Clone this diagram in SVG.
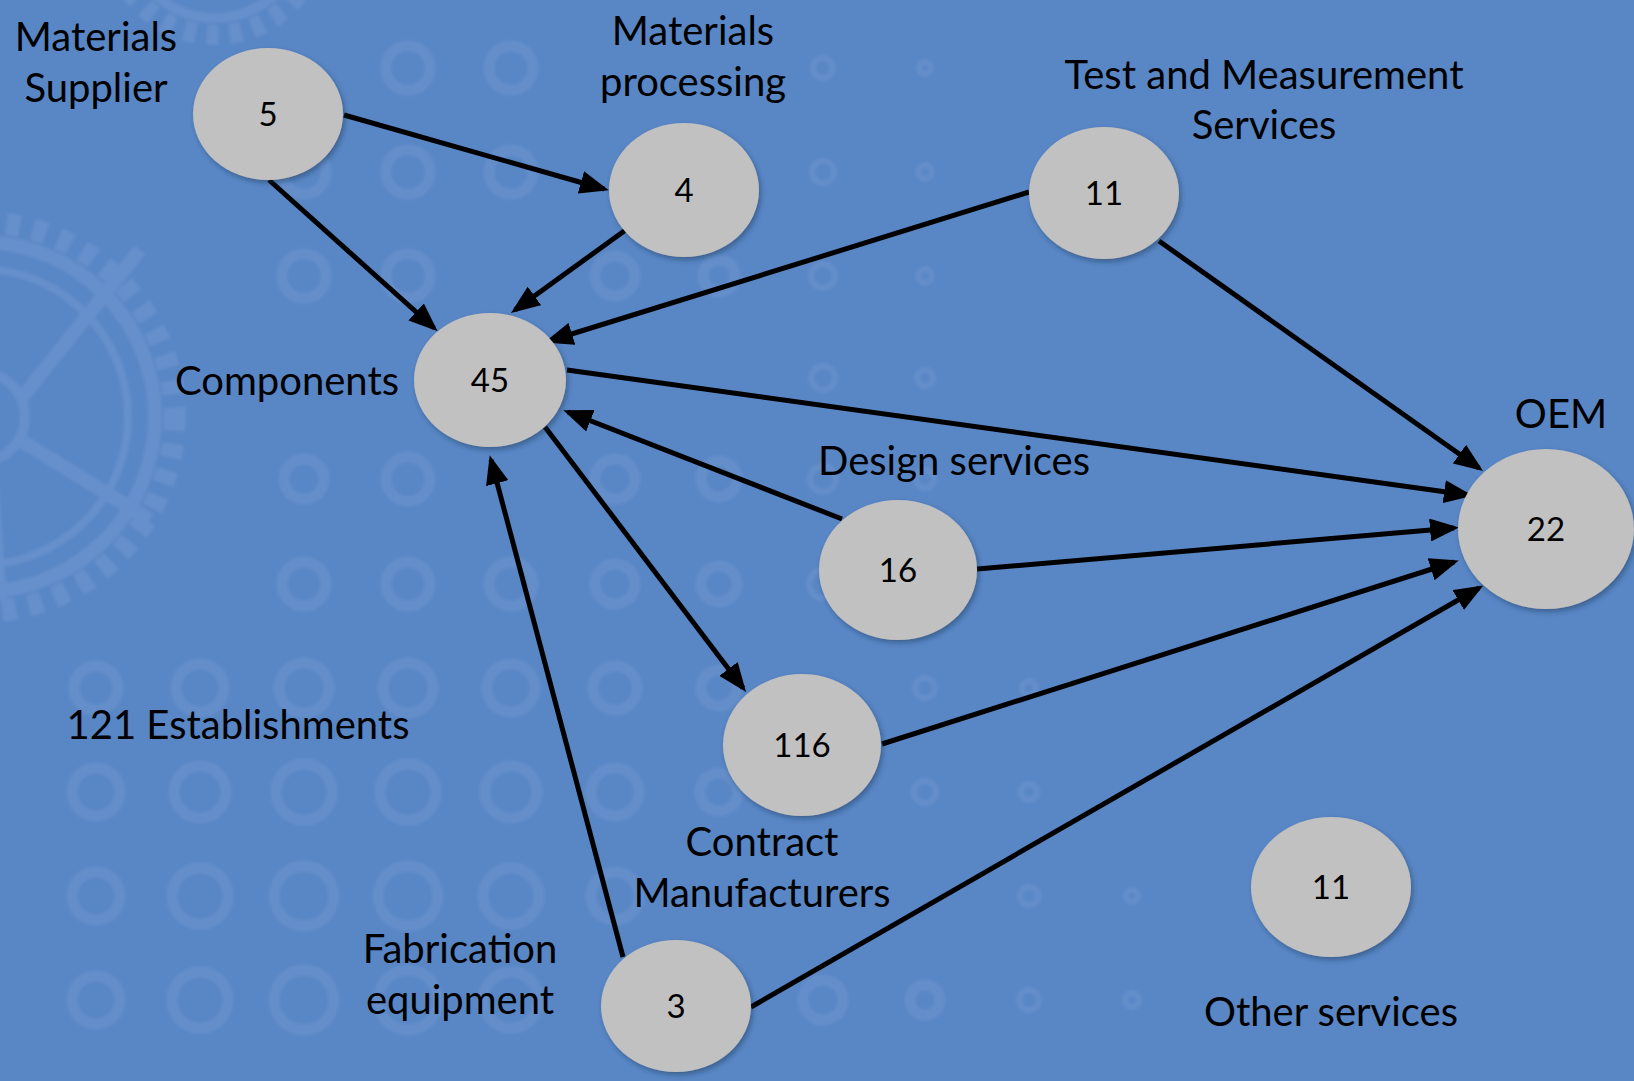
<svg xmlns="http://www.w3.org/2000/svg" width="1634" height="1081" viewBox="0 0 1634 1081">
<style>
.lbl{font-family:Lato,"Open Sans","DejaVu Sans",sans-serif;font-size:40px;fill:#000;text-anchor:middle}
.num{font-family:Lato,"Open Sans","DejaVu Sans",sans-serif;font-size:33px;fill:#000;text-anchor:middle}
.node ellipse{fill:#c1c1c1;filter:url(#sh)}
.edge{stroke:#000;stroke-width:5;fill:none;marker-end:url(#ah)}
.ring{fill:none;stroke:#9dbbe6}
</style>
<defs>
<marker id="ah" markerUnits="userSpaceOnUse" markerWidth="29" markerHeight="23" refX="24" refY="11.5" orient="auto">
<path d="M0,0 L29,11.5 L0,23 z" fill="#000"/>
</marker>
<filter id="sh" x="-20%" y="-20%" width="140%" height="140%">
<feDropShadow dx="2" dy="3" stdDeviation="2.5" flood-color="#1c3050" flood-opacity="0.45"/>
</filter>
<filter id="soft"><feGaussianBlur stdDeviation="1.5"/></filter>
</defs>
<rect width="1634" height="1081" fill="#5986c5"/>
<g id="background" opacity="0.16" filter="url(#soft)">
<g stroke="#a9c4ea" fill="none">
<circle cx="-20" cy="417" r="195" stroke-width="22" stroke-dasharray="14 13"/>
<circle cx="-20" cy="417" r="175" stroke-width="14"/>
<circle cx="-20" cy="417" r="148" stroke-width="8"/>
<circle cx="-20" cy="417" r="45" stroke-width="10"/>
<path d="M20,400 L140,250 M20,440 L150,520 M-10,460 L0,600" stroke-width="14"/>
<circle cx="215" cy="-70" r="105" stroke-width="20" stroke-dasharray="12 11"/>
<circle cx="215" cy="-70" r="88" stroke-width="10"/>
</g>
<g class="ring" stroke-width="11">
<circle cx="96" cy="688" r="22"/><circle cx="200" cy="688" r="24"/><circle cx="304" cy="688" r="25"/><circle cx="408" cy="688" r="25"/><circle cx="511" cy="688" r="24"/><circle cx="615" cy="688" r="22"/><circle cx="719" cy="688" r="18"/>
<circle cx="96" cy="792" r="24"/><circle cx="200" cy="792" r="26"/><circle cx="304" cy="792" r="28"/><circle cx="408" cy="792" r="28"/><circle cx="511" cy="792" r="26"/><circle cx="615" cy="792" r="24"/><circle cx="719" cy="792" r="19"/>
<circle cx="96" cy="896" r="24"/><circle cx="200" cy="896" r="28"/><circle cx="304" cy="896" r="30"/><circle cx="408" cy="896" r="30"/><circle cx="511" cy="896" r="28"/><circle cx="615" cy="896" r="24"/>
<circle cx="96" cy="1000" r="24"/><circle cx="200" cy="1000" r="28"/><circle cx="304" cy="1000" r="30"/><circle cx="408" cy="1000" r="30"/><circle cx="511" cy="1000" r="28"/><circle cx="823" cy="1000" r="20"/><circle cx="925" cy="1000" r="15"/>
<circle cx="304" cy="584" r="22"/><circle cx="408" cy="584" r="22"/><circle cx="511" cy="584" r="22"/><circle cx="615" cy="584" r="20"/><circle cx="719" cy="584" r="18"/>
<circle cx="304" cy="479" r="20"/><circle cx="408" cy="479" r="22"/><circle cx="615" cy="479" r="20"/><circle cx="719" cy="479" r="18"/>
<circle cx="304" cy="276" r="22"/><circle cx="408" cy="276" r="22"/><circle cx="615" cy="276" r="20"/><circle cx="719" cy="276" r="16"/>
<circle cx="304" cy="172" r="22"/><circle cx="408" cy="172" r="22"/><circle cx="511" cy="172" r="22"/>
<circle cx="408" cy="68" r="22"/><circle cx="511" cy="68" r="22"/>
</g>
<g class="ring" stroke-width="6">
<circle cx="823" cy="68" r="10"/><circle cx="925" cy="68" r="6"/>
<circle cx="823" cy="172" r="11"/><circle cx="925" cy="172" r="7"/>
<circle cx="823" cy="276" r="12"/><circle cx="925" cy="276" r="7"/>
<circle cx="823" cy="378" r="12"/><circle cx="925" cy="378" r="8"/>
<circle cx="823" cy="479" r="13"/><circle cx="925" cy="479" r="9"/>
<circle cx="823" cy="584" r="14"/><circle cx="925" cy="584" r="10"/>
<circle cx="925" cy="688" r="10"/><circle cx="1029" cy="688" r="7"/>
<circle cx="925" cy="792" r="11"/><circle cx="1029" cy="792" r="8"/>
<circle cx="1029" cy="896" r="9"/><circle cx="1132" cy="896" r="6"/>
<circle cx="1029" cy="1000" r="10"/><circle cx="1132" cy="1000" r="7"/>
</g>
</g>
<g id="connectors">
<line class="edge" x1="344" y1="115" x2="604" y2="189"/>
<line class="edge" x1="269" y1="180" x2="434" y2="328"/>
<line class="edge" x1="627" y1="229" x2="515" y2="310"/>
<line class="edge" x1="1029" y1="192" x2="549" y2="341"/>
<line class="edge" x1="567" y1="370" x2="1468" y2="495"/>
<line class="edge" x1="1159" y1="241" x2="1479" y2="468"/>
<line class="edge" x1="842" y1="519" x2="568" y2="412"/>
<line class="edge" x1="977" y1="569" x2="1454" y2="528"/>
<line class="edge" x1="545" y1="427" x2="743" y2="688"/>
<line class="edge" x1="882" y1="744" x2="1454" y2="562"/>
<line class="edge" x1="623" y1="957" x2="491" y2="460"/>
<line class="edge" x1="751" y1="1007" x2="1479" y2="588"/>
</g>
<g id="n-materials-supplier" class="node">
<ellipse cx="268" cy="114" rx="75" ry="66"/>
<text class="num" x="268" y="126">5</text>
<text class="lbl" x="96" y="51">Materials</text>
<text class="lbl" x="96" y="102">Supplier</text>
</g>
<g id="n-materials-processing" class="node">
<ellipse cx="684" cy="190" rx="75" ry="67"/>
<text class="num" x="684" y="202">4</text>
<text class="lbl" x="693" y="45">Materials</text>
<text class="lbl" x="693" y="96">processing</text>
</g>
<g id="n-test" class="node">
<ellipse cx="1104" cy="193" rx="75" ry="66"/>
<text class="num" x="1104" y="205">11</text>
<text class="lbl" x="1264" y="89">Test and Measurement</text>
<text class="lbl" x="1264" y="139">Services</text>
</g>
<g id="n-components" class="node">
<ellipse cx="490" cy="380" rx="76" ry="67"/>
<text class="num" x="490" y="392">45</text>
<text class="lbl" x="287" y="395">Components</text>
</g>
<g id="n-oem" class="node">
<ellipse cx="1546" cy="529" rx="88" ry="80"/>
<text class="num" x="1546" y="541">22</text>
<text class="lbl" x="1561" y="428">OEM</text>
</g>
<g id="n-design" class="node">
<ellipse cx="898" cy="570" rx="79" ry="70"/>
<text class="num" x="898" y="582">16</text>
<text class="lbl" x="954" y="475">Design services</text>
</g>
<g id="n-contract" class="node">
<ellipse cx="802" cy="745" rx="79" ry="71"/>
<text class="num" x="802" y="757">116</text>
<text class="lbl" x="762" y="856">Contract</text>
<text class="lbl" x="762" y="907">Manufacturers</text>
</g>
<g id="n-other" class="node">
<ellipse cx="1331" cy="887" rx="80" ry="70"/>
<text class="num" x="1331" y="899">11</text>
<text class="lbl" x="1331" y="1026">Other services</text>
</g>
<g id="n-fabrication" class="node">
<ellipse cx="676" cy="1006" rx="75" ry="66"/>
<text class="num" x="676" y="1018">3</text>
<text class="lbl" x="460" y="963">Fabrication</text>
<text class="lbl" x="460" y="1014">equipment</text>
</g>
<g id="summary">
<text class="lbl" x="238" y="739">121 Establishments</text>
</g>
</svg>
